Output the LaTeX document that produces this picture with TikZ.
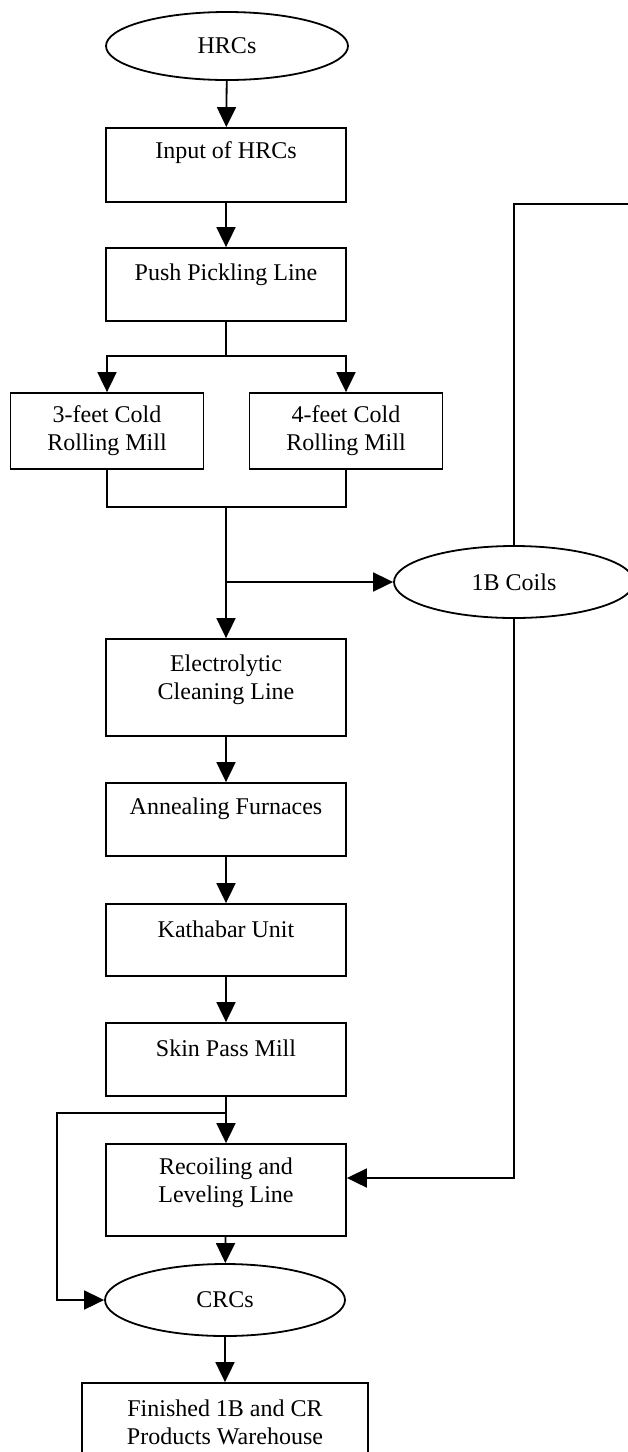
\documentclass[tikz,border=0pt]{standalone}
\usepackage{fontspec}
\setmainfont{Liberation Serif}
\usetikzlibrary{arrows.meta,shapes.geometric}
\begin{document}
\begin{tikzpicture}[x=1pt,y=-1pt,
  line width=1.8pt,
  box/.style={draw, rectangle, minimum width=240pt, inner sep=0pt},
  oval/.style={draw, ellipse, inner sep=0pt, font=\fontsize{24}{28}\selectfont},
  txt/.style={inner sep=0pt, align=center, font=\fontsize{24}{28}\selectfont},
  arr/.style={-{Triangle[length=20pt,width=19pt]}}]
\useasboundingbox (0,0) rectangle (628,1452);
\fill[white] (0,0) rectangle (628,1452);

% nodes
\node[oval, minimum width=242pt, minimum height=68pt] (hrcs) at (227,46) {HRCs};
\node[box, minimum height=74pt] (input) at (226,165) {};
\node[txt] (tinput) at (226,153) {Input of HRCs};
\node[box, minimum height=73pt] (push) at (226,284.5) {};
\node[txt] (tpush) at (226,275) {Push Pickling Line};
\node[box, minimum width=193pt, minimum height=76pt] (r3) at (107,431) {};
\node[txt] (tr3) at (107,431) {3-feet Cold\\Rolling Mill};
\node[box, minimum width=193pt, minimum height=76pt] (r4) at (346,431) {};
\node[txt] (tr4) at (346,431) {4-feet Cold\\Rolling Mill};
\node[oval, minimum width=240pt, minimum height=72pt] (coils) at (514,582) {1B Coils};
\node[box, minimum height=97pt] (elec) at (226,687.5) {};
\node[txt] (telec) at (226,680) {Electrolytic\\Cleaning Line};
\node[box, minimum height=73pt] (anneal) at (226,819.5) {};
\node[txt] (tanneal) at (226,809) {Annealing Furnaces};
\node[box, minimum height=72pt] (kath) at (226,940) {};
\node[txt] (tkath) at (226,929) {Kathabar Unit};
\node[box, minimum height=73pt] (skin) at (226,1059.5) {};
\node[txt] (tskin) at (226,1048) {Skin Pass Mill};
\node[box, minimum height=92pt] (recoil) at (226,1190) {};
\node[txt] (trecoil) at (226,1183) {Recoiling and\\Leveling Line};
\node[oval, minimum width=240pt, minimum height=72pt] (crcs) at (225,1300) {CRCs};
\node[box, minimum width=286pt, minimum height=79pt] (fin) at (225,1422.5) {};
\node[txt] (tfin) at (225,1422) {Finished 1B and CR\\Products Warehouse};

% helper coordinates
\coordinate (sp) at (226,356);
\coordinate (jn) at (226,507);
\coordinate (br) at (226,582);
\coordinate (tc) at (514,204);
\coordinate (tr) at (660,204);
\coordinate (rc) at (514,1178);
\coordinate (sb) at (226,1113);
\coordinate (lb) at (57,1113);

% connectors
\draw[arr] (hrcs) -- (input);
\draw[arr] (input) -- (push);
\draw (push) -- (sp);
\draw[arr] (sp) -| (r3);
\draw[arr] (sp) -| (r4);
\draw (r3.south) |- (jn) -| (r4.south);
\draw[arr] (jn) -- (elec);
\draw[arr] (br) -- (coils);
\draw (coils.north) -- (tc) -- (tr);
\draw[arr] (coils.south) -- (rc) -- (rc -| recoil.east);
\draw[arr] (elec) -- (anneal);
\draw[arr] (anneal) -- (kath);
\draw[arr] (kath) -- (skin);
\draw[arr] (skin) -- (recoil);
\draw[arr] (sb) -- (lb) |- (crcs);
\draw[arr] (recoil) -- (crcs);
\draw[arr] (crcs) -- (fin);
\end{tikzpicture}
\end{document}
